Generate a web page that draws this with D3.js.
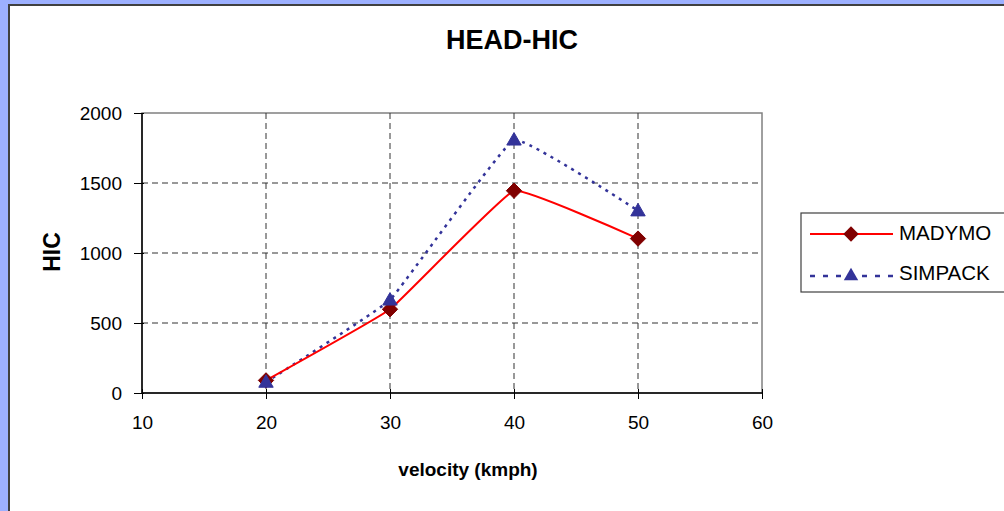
<!DOCTYPE html>
<html><head><meta charset="utf-8">
<script src="https://cdn.jsdelivr.net/npm/d3@7"></script>
<style>html,body{margin:0;padding:0;background:#9db0ff;}svg{display:block;}</style>
</head><body>
<script>
const velocities = [20, 30, 40, 50];
const madymo = [90, 598, 1445, 1103];
const simpack = [78, 665, 1808, 1302];
const xTicks = [10, 20, 30, 40, 50, 60];
const yTicks = [0, 500, 1000, 1500, 2000];
const seriesNames = ["MADYMO", "SIMPACK"];

const W = 1004, H = 511;
const FONT = "'Liberation Sans', Arial, sans-serif";
const svg = d3.select("body").append("svg").attr("width", W).attr("height", H)
  .style("font-family", FONT);
svg.append("rect").attr("width", W).attr("height", H).attr("fill", "#9db0ff");
svg.append("rect").attr("x", 9).attr("y", 5).attr("width", W + 10).attr("height", H + 10)
  .attr("fill", "#fff").attr("stroke", "#404040").attr("stroke-width", 2);

const L = 142, R = 762, T = 113, B = 393;
const x = d3.scaleLinear().domain([10, 60]).range([L, R]);
const y = d3.scaleLinear().domain([0, 2000]).range([B, T]);

// plot border
svg.append("rect").attr("x", L).attr("y", T).attr("width", R - L).attr("height", B - T)
  .attr("fill", "none").attr("stroke", "#808080").attr("stroke-width", 1.5);

// grid
const g = svg.append("g");
g.selectAll(".hg").data(yTicks.filter(d => d > 0 && d < 2000)).join("line")
  .attr("x1", L).attr("x2", R).attr("y1", d => y(d)).attr("y2", d => y(d))
  .attr("stroke", "#333").attr("stroke-width", 1).attr("stroke-dasharray", "6,4");
g.selectAll(".vg").data(xTicks.filter(d => d > 10 && d < 60)).join("line")
  .attr("y1", T).attr("y2", B).attr("x1", d => x(d)).attr("x2", d => x(d))
  .attr("stroke", "#333").attr("stroke-width", 1).attr("stroke-dasharray", "6,4");

// axes
const ya = svg.append("g").attr("transform", `translate(${L},0)`)
  .call(d3.axisLeft(y).tickValues(yTicks).tickFormat(d3.format("d")).tickSize(8).tickPadding(12));
const xa = svg.append("g").attr("transform", `translate(0,${B})`)
  .call(d3.axisBottom(x).tickValues(xTicks).tickFormat(d3.format("d")).tickSize(6).tickPadding(17));
[ya, xa].forEach(a => {
  a.select(".domain").attr("stroke", "#000").attr("stroke-width", 1.5);
  a.selectAll(".tick line").attr("stroke", "#000");
  a.selectAll("text").attr("font-size", 19).attr("fill", "#000").attr("font-family", FONT);
});
ya.select(".domain").attr("d", `M0,${T}V${B}`);
ya.selectAll(".tick line").attr("x1", 2);
xa.select(".domain").attr("d", `M${L},0H${R}`);
xa.selectAll(".tick line").attr("y1", -4);

// titles
svg.append("text").attr("x", 512).attr("y", 49).attr("text-anchor", "middle")
  .attr("font-size", 27).attr("font-weight", "bold").text("HEAD-HIC");
svg.append("text").attr("x", 468).attr("y", 476).attr("text-anchor", "middle")
  .attr("font-size", 19).attr("font-weight", "bold").text("velocity (kmph)");
svg.append("text").attr("transform", `translate(60,252) rotate(-90)`).attr("text-anchor", "middle")
  .attr("font-size", 23).attr("font-weight", "bold").text("HIC");

const line = d3.line().x(d => x(d[0])).y(d => y(d[1])).curve(d3.curveCardinal.tension(0.75));
const md = velocities.map((v, i) => [v, madymo[i]]);
const sp = velocities.map((v, i) => [v, simpack[i]]);

svg.append("path").attr("d", line(sp)).attr("fill", "none").attr("stroke", "#333399")
  .attr("stroke-width", 2.5).attr("stroke-dasharray", "3,5");
svg.append("path").attr("d", line(md)).attr("fill", "none").attr("stroke", "#ff0000")
  .attr("stroke-width", 2);

const diamond = d3.symbol().type(d3.symbolDiamond2).size(150);
const tri = d3.symbol().type(d3.symbolTriangle).size(90);
svg.selectAll(".dm").data(md).join("path").attr("d", diamond)
  .attr("transform", d => `translate(${x(d[0])},${y(d[1])})`)
  .attr("fill", "#800000").attr("stroke", "#800000");
svg.selectAll(".tr").data(sp).join("path").attr("d", tri)
  .attr("transform", d => `translate(${x(d[0])},${y(d[1]) + 1})`)
  .attr("fill", "#333399").attr("stroke", "#333399");

// legend
const lg = svg.append("g");
lg.append("rect").attr("x", 801).attr("y", 213).attr("width", 220).attr("height", 79)
  .attr("fill", "#fff").attr("stroke", "#404040").attr("stroke-width", 1.2);
lg.append("line").attr("x1", 810).attr("x2", 893).attr("y1", 234).attr("y2", 234)
  .attr("stroke", "#ff0000").attr("stroke-width", 2);
lg.append("path").attr("d", diamond).attr("transform", "translate(851,234)")
  .attr("fill", "#800000");
lg.append("line").attr("x1", 810).attr("x2", 893).attr("y1", 276).attr("y2", 276)
  .attr("stroke", "#333399").attr("stroke-width", 2.5).attr("stroke-dasharray", "5,8");
lg.append("path").attr("d", tri).attr("transform", "translate(851,276)").attr("fill", "#333399");
lg.selectAll(".lt").data(seriesNames).join("text")
  .attr("x", 899).attr("y", (d, i) => 240 + i * 40).attr("font-size", 20.5).text(d => d);
</script>
</body></html>
